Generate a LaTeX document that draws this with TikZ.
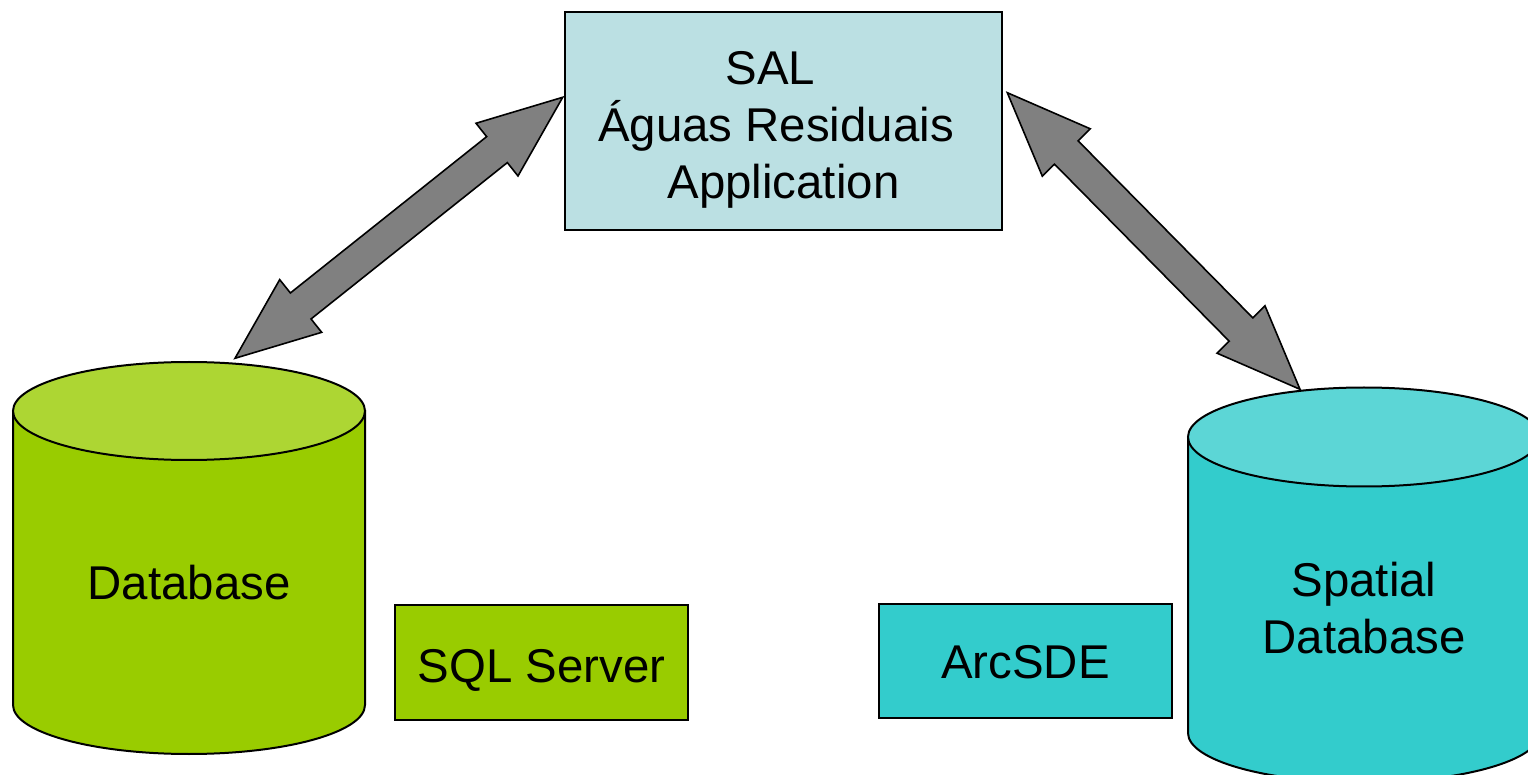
\documentclass[tikz,border=0pt]{standalone}
\usepackage{fontspec}
\setmainfont{Liberation Sans}
\usetikzlibrary{calc}
\definecolor{dbgreen}{HTML}{99CC00}
\definecolor{dbgreentop}{HTML}{ADD633}
\definecolor{dbcyan}{HTML}{33CCCC}
\definecolor{dbcyantop}{HTML}{5CD6D6}
\definecolor{salblue}{HTML}{BBE0E3}
\definecolor{arrowgray}{HTML}{808080}
\newcommand\dblarrow[2]{%
  \filldraw[blockarrow] (#1)
   -- ($(#1)!42pt!(#2)!16.85pt!90:(#2)$)
   -- ($(#1)!42pt!(#2)!8.3pt!90:(#2)$)
   -- ($(#2)!42pt!(#1)!8.3pt!-90:(#1)$)
   -- ($(#2)!42pt!(#1)!16.85pt!-90:(#1)$)
   -- (#2)
   -- ($(#2)!42pt!(#1)!16.85pt!90:(#1)$)
   -- ($(#2)!42pt!(#1)!8.3pt!90:(#1)$)
   -- ($(#1)!42pt!(#2)!8.3pt!-90:(#2)$)
   -- ($(#1)!42pt!(#2)!16.85pt!-90:(#2)$)
   -- cycle;}
\begin{document}
\begin{tikzpicture}[x=0.5pt,y=-0.5pt,line width=1pt,
  every node/.style={font=\fontsize{23.7}{28.4}\selectfont},
  box/.style={draw=black,line width=1pt,rectangle,inner sep=0pt},
  blockarrow/.style={fill=arrowgray,draw=black,line width=0.8pt,line join=miter}]
\useasboundingbox (0,0) rectangle (1528,775);
\clip (0,0) rectangle (1528,775);
\fill[white] (0,0) rectangle (1528,775);

% top application box
\node[box,fill=salblue,minimum width=218.5pt,minimum height=109pt] (sal) at (783.5,121) {};
\node[align=center] (saltext) at (783.5,130) {SAL\rule{13pt}{0pt}\\Águas Residuais\rule{7.5pt}{0pt}\\Application};

% left database cylinder
\path[draw,fill=dbgreen] (13,411) -- (13,705)
  arc[start angle=180,end angle=360,x radius=88pt,y radius=24.5pt] -- (365,411) -- cycle;
\draw[fill=dbgreentop] (189,411) ellipse[x radius=88pt,y radius=24.5pt];
\node (db) at (189,583) {Database};

% right spatial database cylinder
\path[draw,fill=dbcyan] (1188,437) -- (1188,733)
  arc[start angle=180,end angle=360,x radius=88pt,y radius=24.75pt] -- (1540,437) -- cycle;
\draw[fill=dbcyantop] (1364,437) ellipse[x radius=88pt,y radius=24.75pt];
\node[align=center] (sdb) at (1364,608) {Spatial\\Database};

% small label boxes
\node[box,fill=dbgreen,minimum width=146.5pt,minimum height=57.5pt] (sql) at (541.5,662.5) {};
\node[anchor=base] (sqltext) at (541.5,682) {SQL Server};
\node[box,fill=dbcyan,minimum width=146.5pt,minimum height=57pt] (arcsde) at (1025.5,661) {};
\node[anchor=base] (arcsdetext) at (1025.5,678) {ArcSDE};

% block arrows
\coordinate (la1) at (562.7,97.3);
\coordinate (la2) at (235,358.3);
\coordinate (ra1) at (1007.3,92.7);
\coordinate (ra2) at (1300,389.3);
\dblarrow{la1}{la2}
\dblarrow{ra1}{ra2}
\end{tikzpicture}
\end{document}
